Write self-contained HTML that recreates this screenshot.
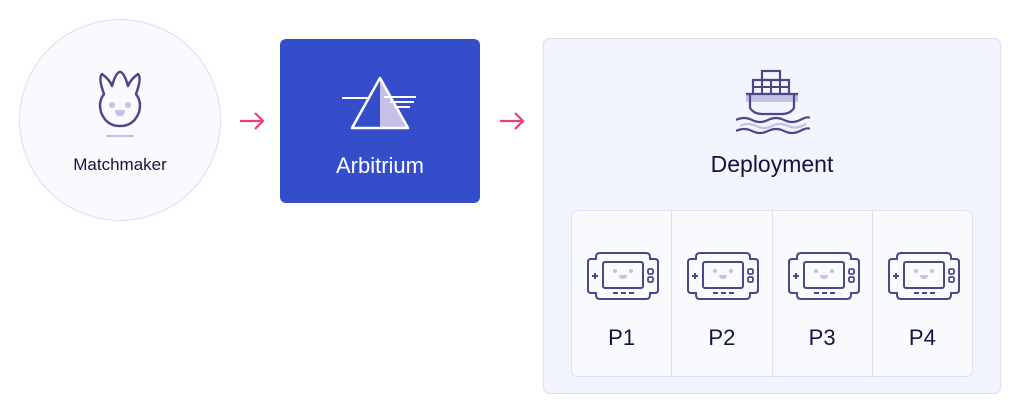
<!DOCTYPE html>
<html><head><style>
body{margin:0;width:1020px;height:414px;background:#fff;position:relative;font-family:"Liberation Sans",sans-serif;overflow:hidden}
.a{position:absolute}
</style></head><body>
<div class="a" style="left:19px;top:19px;width:200px;height:200px;border-radius:50%;background:#f9f9fe;border:1px solid #dedcf0"></div>
<svg class="a" style="left:92px;top:68px" width="56" height="72" viewBox="0 0 56 72">
<path d="M12 26 Q6 10 10 6 Q18 12 20 18 Q24 4 28 4 Q32 4 36 18 Q38 12 46 6 Q50 10 44 26 Q50 34 47 44 Q42 58 28 58 Q14 58 9 44 Q6 34 12 26Z" fill="none" stroke="#4b4888" stroke-width="2.5" stroke-linejoin="round"/>
<circle cx="20" cy="37" r="3" fill="#c5c0e8"/><circle cx="36" cy="37" r="3" fill="#c5c0e8"/>
<path d="M23 42 h10 q0 6 -5 6 q-5 0 -5 -6z" fill="#c5c0e8"/>
<rect x="14" y="67" width="28" height="2" rx="1" fill="#c5c0e8"/>
</svg>
<div class="a" style="left:19px;top:155px;width:202px;text-align:center;font-size:17px;color:#14133d">Matchmaker</div>
<svg class="a" style="left:238px;top:110px" width="30" height="22" viewBox="0 0 30 22"><path d="M2 11 H25 M17 3 L25 11 L17 19" fill="none" stroke="#ef3e73" stroke-width="2.2"/></svg>
<div class="a" style="left:280px;top:39px;width:200px;height:164px;border-radius:6px;background:#334dcb"></div>
<svg class="a" style="left:340px;top:72px" width="80" height="60" viewBox="0 0 80 60">
<path d="M40 6 L68 56 L40 56Z" fill="#c5c0e8"/>
<path d="M40 6 L68 56 L12 56Z" fill="none" stroke="#fff" stroke-width="2.5" stroke-linejoin="round"/>
<path d="M2 26 H30 M44 25 H76 M50 30 H74 M54 35 H70" stroke="#fff" stroke-width="2"/>
</svg>
<div class="a" style="left:280px;top:153px;width:200px;text-align:center;font-size:22px;color:#fff">Arbitrium</div>
<svg class="a" style="left:498px;top:110px" width="30" height="22" viewBox="0 0 30 22"><path d="M2 11 H25 M17 3 L25 11 L17 19" fill="none" stroke="#ef3e73" stroke-width="2.2"/></svg>
<div class="a" style="left:543px;top:38px;width:456px;height:354px;border-radius:6px;background:#f2f5fe;border:1px solid #dfdff0"></div>
<svg class="a" style="left:736px;top:68px" width="74" height="68" viewBox="0 0 74 68">
<rect x="26" y="3" width="18" height="9" fill="none" stroke="#4b4888" stroke-width="2.2"/>
<rect x="17" y="12" width="36" height="14" fill="none" stroke="#4b4888" stroke-width="2.2"/>
<path d="M26 12v14M35 12v14M44 12v14M17 19h36" stroke="#4b4888" stroke-width="2"/>
<rect x="10" y="26" width="52" height="8" fill="#c5c0e8"/>
<path d="M10 26 H62 M14 26 V40 Q18 46 26 46 H46 Q54 46 58 40 V26" fill="none" stroke="#4b4888" stroke-width="2.2"/>
<path d="M0 52 Q8 48 16 52 T32 52 T48 52 T64 52 T74 50" fill="none" stroke="#4b4888" stroke-width="2.2"/>
<path d="M4 58 Q12 54 20 58 T36 58 T52 58 T70 56" fill="none" stroke="#c5c0e8" stroke-width="2.2"/>
<path d="M0 63 Q8 59 16 63 T32 63 T48 63 T64 63 T74 61" fill="none" stroke="#4b4888" stroke-width="2.2"/>
</svg>
<div class="a" style="left:543px;top:151px;width:458px;text-align:center;font-size:23px;color:#14133d">Deployment</div>
<div class="a" style="left:571px;top:210px;width:400px;height:165px;border-radius:6px;background:#f9fafe;border:1px solid #dfdff0;display:flex">
<div style="flex:1;border-right:1px solid #dfdff0;position:relative"><svg class="a" style="left:14px;top:40px" width="74" height="50" viewBox="0 0 74 50"><use href="#gp"/></svg><div class="a" style="left:0;right:0;top:114px;text-align:center;font-size:22px;color:#14133d">P1</div></div>
<div style="flex:1;border-right:1px solid #dfdff0;position:relative"><svg class="a" style="left:14px;top:40px" width="74" height="50" viewBox="0 0 74 50"><use href="#gp"/></svg><div class="a" style="left:0;right:0;top:114px;text-align:center;font-size:22px;color:#14133d">P2</div></div>
<div style="flex:1;border-right:1px solid #dfdff0;position:relative"><svg class="a" style="left:14px;top:40px" width="74" height="50" viewBox="0 0 74 50"><use href="#gp"/></svg><div class="a" style="left:0;right:0;top:114px;text-align:center;font-size:22px;color:#14133d">P3</div></div>
<div style="flex:1;position:relative"><svg class="a" style="left:14px;top:40px" width="74" height="50" viewBox="0 0 74 50"><use href="#gp"/></svg><div class="a" style="left:0;right:0;top:114px;text-align:center;font-size:22px;color:#14133d">P4</div></div>
</div>
<svg width="0" height="0" style="position:absolute"><defs><g id="gp">
<path d="M14 2 H60 Q64 2 64 6 V8 H69 Q72 8 72 11 V39 Q72 42 69 42 H64 V44 Q64 48 60 48 H14 Q10 48 10 44 V42 H5 Q2 42 2 39 V11 Q2 8 5 8 H10 V6 Q10 2 14 2Z" fill="none" stroke="#4b4888" stroke-width="2"/>
<rect x="17" y="11" width="40" height="26" rx="2" fill="none" stroke="#4b4888" stroke-width="2"/>
<circle cx="29" cy="20" r="2" fill="#c5c0e8"/><circle cx="45" cy="20" r="2" fill="#c5c0e8"/>
<path d="M33 24 h8 q0 4 -4 4 q-4 0 -4 -4z" fill="#c5c0e8"/>
<path d="M6 25 h6 M9 22 v6" stroke="#4b4888" stroke-width="2"/>
<rect x="62" y="18" width="5" height="5" rx="1.5" fill="none" stroke="#4b4888" stroke-width="1.8"/>
<rect x="62" y="26" width="5" height="5" rx="1.5" fill="none" stroke="#4b4888" stroke-width="1.8"/>
<path d="M27 42 h5 M35 42 h5 M43 42 h5" stroke="#4b4888" stroke-width="2"/>
</g></defs></svg>
</body></html>
